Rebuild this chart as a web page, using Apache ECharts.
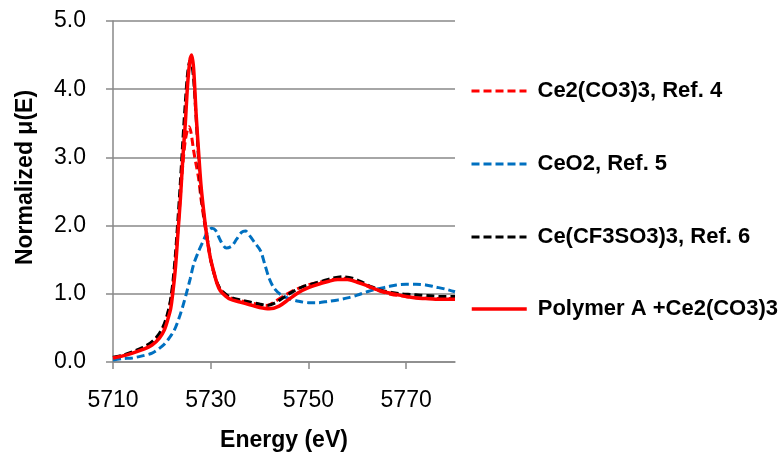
<!DOCTYPE html>
<html>
<head>
<meta charset="utf-8">
<script src="https://cdn.jsdelivr.net/npm/echarts@6/dist/echarts.min.js"></script>
<style>
  html, body { margin: 0; padding: 0; background: #fff; }
  #main { width: 780px; height: 457px; }
</style>
</head>
<body>
<div id="main"></div>
<script>
// series names, legend order
var seriesNames = ['Ce2(CO3)3, Ref. 4', 'CeO2, Ref. 5', 'Ce(CF3SO3)3, Ref. 6', 'Polymer A +Ce2(CO3)3'];

// x tick values
var xTicks = [5710, 5730, 5750, 5770];

// [energy eV, normalized mu(E)]
var ce2co33 = [
  [5710,0.06],[5712,0.09],[5714,0.14],[5716,0.20],[5718,0.29],[5719.5,0.40],[5720.5,0.54],
  [5721.2,0.70],[5721.8,0.90],[5722.3,1.15],[5722.8,1.50],[5723.3,1.95],[5723.8,2.45],
  [5724.3,2.90],[5724.8,3.25],[5725.3,3.42],[5725.6,3.45],[5726,3.35],[5726.5,3.10],
  [5727,2.90],[5727.5,2.70],[5728,2.40],[5728.5,2.15],[5729,1.92],[5729.5,1.70],[5730,1.50],
  [5730.6,1.32],[5731.3,1.16],[5732,1.06],[5733,0.99],[5734,0.94],[5736,0.90],[5738,0.87],
  [5740,0.84],[5741.5,0.83],[5743,0.88],[5745,0.97],[5747,1.05],[5749,1.11],[5751,1.15],
  [5753,1.18],[5755,1.21],[5757,1.23],[5759,1.20],[5761,1.15],[5763,1.08],[5765,1.03],
  [5767,0.99],[5769,0.97],[5771,0.95],[5773,0.94],[5775,0.93],[5777,0.93],[5780,0.93]
];

var ceo2 = [
  [5710,0.03],[5712,0.05],[5714,0.06],[5716,0.09],[5718,0.13],[5719.5,0.20],[5720.5,0.26],
  [5721.5,0.35],[5722.5,0.46],[5723.5,0.64],[5724.3,0.82],[5725,1.00],[5725.8,1.22],
  [5726.5,1.43],[5727.5,1.62],[5728.5,1.78],[5729.3,1.90],[5730.2,1.96],[5731,1.93],
  [5732,1.78],[5733.2,1.67],[5734.3,1.70],[5735.3,1.80],[5736.3,1.90],[5737.1,1.92],
  [5738,1.85],[5739,1.75],[5740.2,1.63],[5741,1.45],[5742,1.22],[5743,1.08],[5744.3,0.99],
  [5746,0.93],[5748,0.89],[5750,0.87],[5752,0.87],[5754,0.89],[5756,0.91],[5758,0.94],
  [5760,0.98],[5762,1.03],[5764,1.07],[5766,1.10],[5768,1.13],[5770,1.14],[5772,1.14],
  [5774,1.13],[5776,1.10],[5778,1.07],[5780,1.03]
];

var cecf3so33 = [
  [5710,0.07],[5712,0.10],[5714,0.15],[5716,0.21],[5718,0.30],[5719.5,0.42],[5720.5,0.56],
  [5721.2,0.72],[5721.8,0.92],[5722.3,1.20],[5722.8,1.60],[5723.3,2.10],[5723.8,2.65],
  [5724.3,3.25],[5724.8,3.80],[5725.3,4.25],[5725.8,4.42],[5726.1,4.38],[5726.5,4.15],
  [5727,3.60],[5727.5,3.00],[5728,2.50],[5728.5,2.20],[5729,1.95],[5729.5,1.72],[5730,1.50],
  [5730.6,1.32],[5731.3,1.16],[5732,1.07],[5733,1.00],[5734,0.95],[5736,0.91],[5738,0.88],
  [5740,0.85],[5741.5,0.83],[5743,0.86],[5745,0.95],[5747,1.04],[5749,1.11],[5751,1.15],
  [5753,1.19],[5755,1.23],[5757,1.25],[5759,1.23],[5761,1.17],[5763,1.10],[5765,1.05],
  [5767,1.02],[5769,1.00],[5771,0.99],[5773,0.98],[5775,0.97],[5777,0.96],[5780,0.96]
];

var polymerA = [
  [5710,0.06],[5712,0.09],[5714,0.13],[5716,0.18],[5718,0.25],[5719.5,0.35],[5720.5,0.47],
  [5721.2,0.62],[5721.8,0.78],[5722.3,1.05],[5722.8,1.40],[5723.3,1.90],[5723.8,2.40],
  [5724.3,3.00],[5724.8,3.50],[5725.3,4.10],[5725.8,4.45],[5726.1,4.50],[5726.5,4.30],
  [5727,3.65],[5727.5,3.10],[5728,2.60],[5728.5,2.25],[5729,1.95],[5729.5,1.70],[5730,1.50],
  [5730.6,1.33],[5731.3,1.15],[5732,1.04],[5733,0.97],[5734,0.92],[5736,0.88],[5738,0.84],
  [5740,0.80],[5742,0.78],[5744,0.82],[5746,0.92],[5748,1.02],[5750,1.09],[5752,1.14],
  [5754,1.18],[5756,1.21],[5758,1.21],[5760,1.17],[5762,1.12],[5764,1.06],[5766,1.02],
  [5768,0.99],[5770,0.96],[5772,0.94],[5774,0.93],[5776,0.92],[5778,0.92],[5780,0.92]
];

var FONT = '"Liberation Sans", Arial, sans-serif';
var GRAY = '#898989';

var myChart = echarts.init(document.getElementById('main'));

// one legend per entry, stacked on the right
var legendTops = [80, 153, 226, 298];
var legendWidths = [3, 3, 3, 3.5];
var legends = seriesNames.map(function (n, i) {
  return {
    data: [n],
    left: 470,
    top: legendTops[i],
    padding: 0,
    itemWidth: 55,
    itemHeight: 22,
    selectedMode: false,
    itemStyle: { opacity: 0 },
    lineStyle: { width: legendWidths[i] },
    textStyle: { fontFamily: FONT, fontSize: 22, fontWeight: 'bold', color: '#000', padding: [0, 0, 0, 6] }
  };
});

function dashed(name, data, color) {
  return {
    name: name, type: 'line', data: data, smooth: 0.3,
    symbol: 'none', showSymbol: false,
    lineStyle: { color: color, width: 3, type: [8, 4], cap: 'butt' },
    itemStyle: { color: color }
  };
}

var option = {
  animation: false,
  backgroundColor: '#fff',
  grid: { left: 113, right: 325, top: 21, bottom: 93 },
  legend: legends,
  xAxis: {
    type: 'value', min: 5710, max: 5780, interval: 20,
    name: 'Energy (eV)', nameLocation: 'middle', nameGap: 67,
    nameTextStyle: { fontFamily: FONT, fontSize: 23, fontWeight: 'bold', color: '#000' },
    axisLine: { lineStyle: { color: GRAY, width: 1.5 } },
    axisTick: { show: true, length: 7, lineStyle: { color: GRAY, width: 1.5 }, customValues: xTicks },
    axisLabel: {
      fontFamily: FONT, fontSize: 23, color: '#000', margin: 27, customValues: xTicks,
      formatter: function (v) { return String(v); }
    },
    splitLine: { show: false }
  },
  yAxis: {
    type: 'value', min: 0, max: 5, interval: 1,
    name: 'Normalized \u03bc(E)', nameLocation: 'middle', nameGap: 76,
    nameTextStyle: { fontFamily: FONT, fontSize: 23, fontWeight: 'bold', color: '#000', padding: [0, 0, 0, 28] },
    axisLine: { show: true, lineStyle: { color: GRAY, width: 1.5 } },
    axisTick: { show: true, length: 7, lineStyle: { color: GRAY, width: 1.5 } },
    axisLabel: {
      fontFamily: FONT, fontSize: 23, color: '#000', margin: 27,
      formatter: function (v) { return v.toFixed(1); }
    },
    splitLine: { show: true, lineStyle: { color: GRAY, width: 1.5 } }
  },
  series: [
    dashed(seriesNames[0], ce2co33, '#ff0000'),
    dashed(seriesNames[1], ceo2, '#0070c0'),
    dashed(seriesNames[2], cecf3so33, '#000000'),
    {
      name: seriesNames[3], type: 'line', data: polymerA, smooth: 0.3,
      symbol: 'none', showSymbol: false,
      lineStyle: { color: '#ff0000', width: 3.5 },
      itemStyle: { color: '#ff0000' }
    }
  ]
};

myChart.setOption(option);
</script>
</body>
</html>
